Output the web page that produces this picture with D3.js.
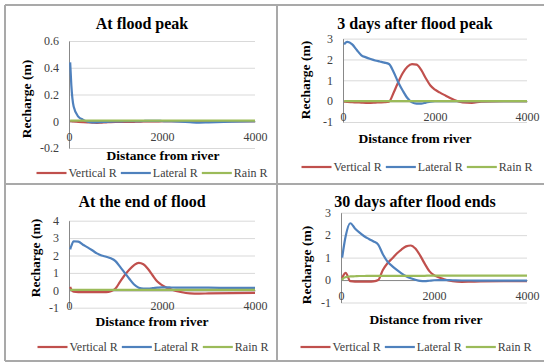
<!DOCTYPE html>
<html>
<head>
<meta charset="utf-8">
<script src="https://cdn.jsdelivr.net/npm/d3@7"></script>
</head>
<body style="margin:0">
<svg id="chart"></svg>
<script>
// Distance from river (m), shared by all four panels
const distance = [25, 50, 100, 200, 300, 400, 500, 600, 700, 800, 900, 1000, 1100, 1200, 1300, 1400, 1500, 1600, 1700, 1800, 1900, 2000, 2100, 2200, 2400, 2600, 2800, 3000, 3500, 4000];

const seriesNames = ["Vertical R", "Lateral R", "Rain R"];
const panelTitles = ["At flood peak", "3 days after flood peak", "At the end of flood", "30 days after flood ends"];
const xTicks = [0, 2000, 4000];

// At flood peak
const peakTicks = [-0.2, 0, 0.2, 0.4, 0.6];
const peakVertical = [0, 0, -0.002, -0.004, -0.006, -0.008, -0.01, -0.012, -0.01, -0.008, -0.006, -0.005, -0.005, -0.005, -0.005, -0.004, -0.003, -0.002, -0.002, -0.002, -0.001, 0, 0, 0, 0, 0, 0, 0, 0, 0];
const peakLateral = [0.44, 0.27, 0.11, 0.035, 0.012, -0.004, -0.008, -0.008, -0.006, -0.004, -0.003, -0.002, -0.001, 0, 0, 0, 0.001, 0.002, 0.003, 0.003, 0.003, 0.002, 0.001, 0, -0.003, -0.007, -0.01, -0.008, -0.003, 0];
const peakRain = [0.004, 0.004, 0.004, 0.004, 0.004, 0.004, 0.004, 0.004, 0.004, 0.004, 0.004, 0.004, 0.004, 0.004, 0.004, 0.004, 0.004, 0.004, 0.004, 0.004, 0.004, 0.004, 0.004, 0.004, 0.004, 0.004, 0.004, 0.004, 0.004, 0.004];

// 3 days after flood peak
const after3Ticks = [-1, 0, 1, 2, 3];
const after3Vertical = [-0.02, -0.03, -0.04, -0.05, -0.06, -0.07, -0.08, -0.08, -0.07, -0.06, -0.05, -0.02, 0.4, 0.91, 1.35, 1.65, 1.78, 1.75, 1.5, 1.1, 0.75, 0.55, 0.42, 0.3, 0.08, -0.06, -0.08, -0.03, 0, 0];
const after3Lateral = [2.72, 2.8, 2.84, 2.72, 2.45, 2.2, 2.1, 2.02, 1.95, 1.9, 1.85, 1.78, 1.4, 0.91, 0.5, 0.15, -0.06, -0.12, -0.12, -0.07, -0.02, 0, 0, 0, 0, 0, 0, 0, 0, 0];
const after3Rain = [0, 0, 0, 0, 0, 0, 0, 0, 0, 0, 0, 0, 0, 0, 0, 0, 0, 0, 0, 0, 0, 0, 0, 0, 0, 0, 0, 0, 0, 0];

// At the end of flood
const endTicks = [-1, 0, 1, 2, 3, 4];
const endVertical = [0.2, 0.05, -0.08, -0.1, -0.1, -0.1, -0.1, -0.1, -0.1, -0.1, -0.05, 0.1, 0.5, 0.88, 1.2, 1.45, 1.58, 1.5, 1.22, 0.85, 0.5, 0.3, 0.15, 0.05, -0.1, -0.18, -0.19, -0.18, -0.16, -0.15];
const endLateral = [2.35, 2.55, 2.82, 2.8, 2.62, 2.47, 2.3, 2.12, 2.0, 1.93, 1.84, 1.68, 1.35, 1.0, 0.65, 0.33, 0.15, 0.1, 0.1, 0.12, 0.15, 0.17, 0.17, 0.16, 0.15, 0.15, 0.15, 0.15, 0.14, 0.14];
const endRain = [0.03, 0.03, 0.03, 0.03, 0.03, 0.03, 0.03, 0.03, 0.03, 0.03, 0.03, 0.03, 0.03, 0.03, 0.03, 0.03, 0.03, 0.03, 0.03, 0.03, 0.03, 0.03, 0.03, 0.03, 0.03, 0.03, 0.03, 0.03, 0.03, 0.03];

// 30 days after flood ends
const after30Ticks = [-1, 0, 1, 2, 3];
const after30Vertical = [0.08, 0.2, 0.32, -0.05, -0.07, -0.07, -0.07, -0.07, -0.06, 0, 0.45, 0.75, 0.96, 1.18, 1.36, 1.5, 1.54, 1.4, 1.1, 0.73, 0.4, 0.22, 0.12, 0.05, -0.05, -0.08, -0.07, -0.06, -0.05, -0.05];
const after30Lateral = [1.0, 1.35, 1.95, 2.53, 2.3, 2.11, 1.95, 1.83, 1.72, 1.58, 1.15, 0.82, 0.62, 0.45, 0.3, 0.17, 0.08, 0.01, -0.04, -0.05, -0.03, -0.01, 0, 0, -0.01, -0.02, -0.02, -0.03, -0.03, -0.03];
const after30Rain = [0, 0.08, 0.13, 0.16, 0.17, 0.18, 0.18, 0.19, 0.19, 0.19, 0.19, 0.19, 0.19, 0.19, 0.19, 0.19, 0.19, 0.19, 0.19, 0.19, 0.2, 0.2, 0.2, 0.2, 0.2, 0.2, 0.2, 0.2, 0.2, 0.2];

const colors = ["#C0504D", "#4F81BD", "#9BBB59"];

// Layout of each panel (plot box, title and legend placement)
const panels = [
  { title: panelTitles[0], series: [peakVertical, peakLateral, peakRain], ticks: peakTicks,
    left: 69, right: 255, top: 41, bottom: 148, titleX: 142, titleY: 29,
    xTitleX: 163, xTitleY: 160, yTitleX: 26, yTitleY: 99, legendX: 152, legendY: 173 },
  { title: panelTitles[1], series: [after3Vertical, after3Lateral, after3Rain], ticks: after3Ticks,
    left: 343, right: 527, top: 38.6, bottom: 122, titleX: 415, titleY: 29,
    xTitleX: 415, xTitleY: 143, yTitleX: 305, yTitleY: 80, legendX: 417, legendY: 167 },
  { title: panelTitles[2], series: [endVertical, endLateral, endRain], ticks: endTicks,
    left: 69, right: 255, top: 220.7, bottom: 307.7, titleX: 142, titleY: 207,
    xTitleX: 152, xTitleY: 326, yTitleX: 35, yTitleY: 258, legendX: 153, legendY: 347 },
  { title: panelTitles[3], series: [after30Vertical, after30Lateral, after30Rain], ticks: after30Ticks,
    left: 341, right: 527, top: 212.7, bottom: 302.5, titleX: 415, titleY: 207,
    xTitleX: 426, xTitleY: 324, yTitleX: 306, yTitleY: 265, legendX: 416, legendY: 347 }
];

const width = 544;
const height = 363;

const svg = d3.select("#chart")
  .attr("width", width)
  .attr("height", height);

svg.append("rect").attr("width", width).attr("height", height).attr("fill", "#fff");

// Table cell borders
const border = svg.append("g").attr("stroke", "#a9a9a9").attr("stroke-width", 2);
[5, 277].forEach(x => border.append("line").attr("x1", x).attr("x2", x).attr("y1", 5).attr("y2", 361));
[5, 184, 361].forEach(y => border.append("line").attr("x1", 5).attr("x2", width).attr("y1", y).attr("y2", y));

panels.forEach(p => {
  const x = d3.scaleLinear().domain([0, 4000]).range([p.left, p.right]);
  const y = d3.scaleLinear().domain(d3.extent(p.ticks)).range([p.bottom, p.top]);
  const g = svg.append("g");

  // Gridlines
  g.append("g")
    .attr("transform", `translate(${p.left},0)`)
    .call(d3.axisLeft(y).tickValues(p.ticks).tickSize(-(p.right - p.left)).tickFormat(""))
    .call(a => a.select(".domain").remove())
    .call(a => a.selectAll("line").attr("stroke", "#d9d9d9"));

  // Y axis
  g.append("g")
    .attr("transform", `translate(${p.left},0)`)
    .call(d3.axisLeft(y).tickValues(p.ticks).tickSize(0).tickPadding(10).tickFormat(d => String(d)))
    .attr("font-family", null)
    .attr("font-size", null)
    .call(a => a.select(".domain").attr("stroke", "#888"))
    .call(a => a.selectAll("text").attr("fill", "#404040").attr("class", "tick-label"));

  // X axis, crossing at zero
  g.append("g")
    .attr("transform", `translate(0,${y(0)})`)
    .call(d3.axisBottom(x).tickValues(xTicks).tickSize(0).tickPadding(11).tickFormat(d3.format("d")))
    .attr("font-family", null)
    .attr("font-size", null)
    .call(a => a.select(".domain").attr("stroke", "#888"))
    .call(a => a.selectAll("text").attr("fill", "#404040").attr("class", "tick-label"));

  // Series lines
  const line = d3.line()
    .x((d, i) => x(distance[i]))
    .y(d => y(d))
    .curve(d3.curveMonotoneX);

  p.series.forEach((vals, k) => {
    g.append("path")
      .datum(vals)
      .attr("fill", "none")
      .attr("stroke", colors[k])
      .attr("stroke-width", 2.2)
      .attr("d", line);
  });

  // Titles
  g.append("text")
    .attr("class", "bold")
    .attr("x", p.titleX).attr("y", p.titleY)
    .attr("text-anchor", "middle")
    .style("font-size", "16px")
    .text(p.title);

  g.append("text")
    .attr("class", "bold")
    .attr("x", p.xTitleX).attr("y", p.xTitleY)
    .attr("text-anchor", "middle")
    .style("font-size", "13.5px")
    .text("Distance from river");

  g.append("text")
    .attr("class", "bold")
    .attr("transform", `translate(${p.yTitleX},${p.yTitleY}) rotate(-90)`)
    .attr("text-anchor", "middle")
    .attr("dy", "0.35em")
    .style("font-size", "13.5px")
    .text("Recharge (m)");

  // Legend
  const legend = g.append("g");
  let cursor = 0;
  seriesNames.forEach((name, k) => {
    legend.append("line")
      .attr("x1", cursor).attr("x2", cursor + 30)
      .attr("y1", 0).attr("y2", 0)
      .attr("stroke", colors[k]).attr("stroke-width", 2.2);
    cursor += 32;
    const t = legend.append("text")
      .attr("x", cursor).attr("y", 0).attr("dy", "0.35em")
      .attr("fill", "#404040")
      .style("font-family", "'Liberation Serif'")
      .style("font-size", "12px")
      .text(name);
    cursor += t.node().getComputedTextLength() + 4;
  });
  legend.attr("transform", `translate(${p.legendX - (cursor - 4) / 2},${p.legendY})`);
});

// Serif face on every label
svg.selectAll("text").style("font-family", "'Liberation Serif'");
svg.selectAll("text.tick-label").style("font-size", "12px");
svg.selectAll("text.bold").style("font-weight", "bold");
</script>
</body>
</html>
